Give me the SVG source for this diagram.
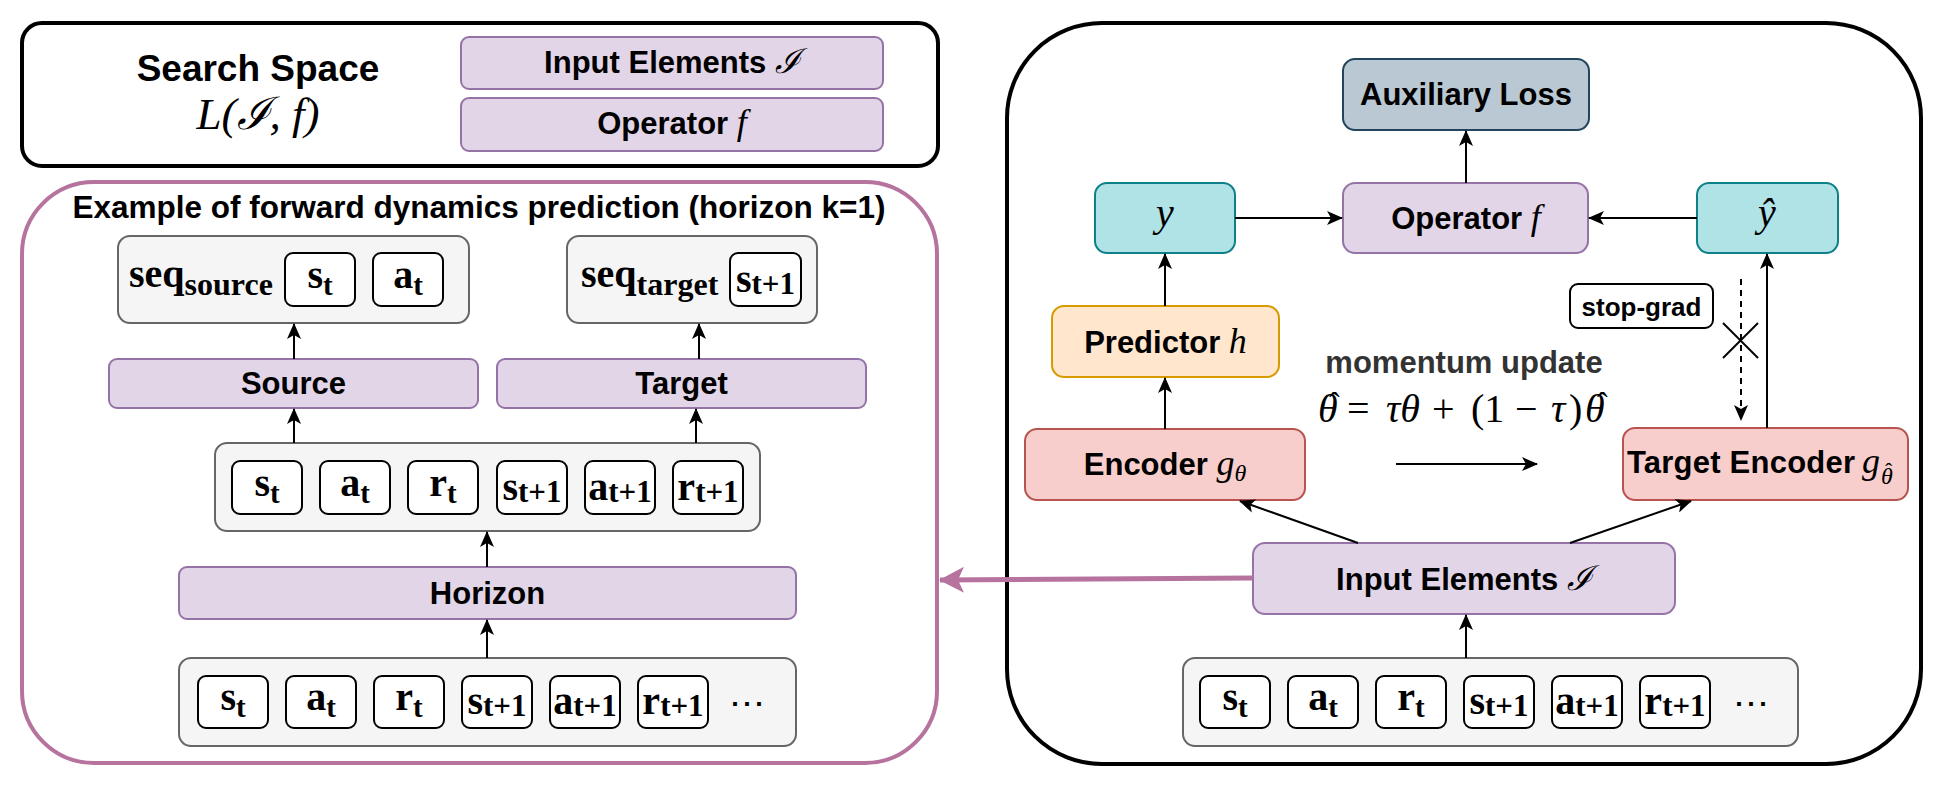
<svg xmlns="http://www.w3.org/2000/svg" width="1954" height="790" viewBox="0 0 1954 790">
<style>
.lbl{font-family:"Liberation Sans",Arial,sans-serif;font-weight:bold;font-size:31px;text-anchor:middle;fill:#000}
.mi{font-family:"Liberation Serif","DejaVu Serif",serif;font-style:italic;font-weight:normal}
.up{font-family:"Liberation Serif","DejaVu Serif",serif;font-style:normal;font-weight:normal}
.tok{font-family:"Liberation Serif","DejaVu Serif",serif;font-weight:bold;font-size:40px;text-anchor:middle;fill:#000}
.s1{font-size:29px}
.s2{font-size:31px}
.purple{fill:#e1d5e7;stroke:#9673a6;stroke-width:2}
.gray{fill:#f5f5f5;stroke:#666666;stroke-width:2}
.tk{fill:#ffffff;stroke:#000000;stroke-width:2}
.teal{fill:#b0e3e6;stroke:#0e8088;stroke-width:2}
.red{fill:#f8cecc;stroke:#b85450;stroke-width:2}
.edge{stroke:#000;stroke-width:2;fill:none}
</style>
<defs>
<marker id="arr" markerUnits="userSpaceOnUse" markerWidth="16" markerHeight="14" viewBox="0 0 16 14" refX="15" refY="7" orient="auto">
<path d="M0,0 L16,7 L0,14 L4,7 Z" fill="#000"/>
</marker>
<marker id="parr" markerUnits="userSpaceOnUse" markerWidth="26" markerHeight="26" viewBox="0 0 26 26" refX="24" refY="13" orient="auto">
<path d="M0,0 L25,13 L0,26 L6,13 Z" fill="#b5739d"/>
</marker>
</defs>
<rect width="1954" height="790" fill="#ffffff"/>

<g id="search-space">
<rect x="22" y="23" width="916" height="143" rx="20" fill="#fff" stroke="#000" stroke-width="4"/>
<text class="lbl" x="258" y="81" style="font-size:37px">Search Space</text>
<text x="258" y="129" class="mi" style="font-size:45px" text-anchor="middle">L(ℐ, f)</text>
</g>
<g id="ss-input">
<rect class="purple" x="461" y="37" width="422" height="52" rx="8"/>
<text class="lbl" x="672" y="73">Input Elements <tspan class="mi" style="font-size:34px">ℐ</tspan></text>
</g>
<g id="ss-operator">
<rect class="purple" x="461" y="98" width="422" height="53" rx="8"/>
<text class="lbl" x="672" y="134">Operator <tspan class="mi" style="font-size:36px">f</tspan></text>
</g>

<g id="example">
<rect x="22" y="182" width="915" height="581" rx="72" fill="#fff" stroke="#b5739d" stroke-width="4"/>
<text class="lbl" x="479" y="218" style="font-size:31.5px">Example of forward dynamics prediction (horizon k=1)</text>
</g>

<g id="seq-source">
<rect class="gray" x="118" y="236" width="351" height="87" rx="12"/>
<text class="tok" x="129" y="287" style="text-anchor:start">seq<tspan dy="8" style="font-size:32px">source</tspan></text>
<rect class="tk" x="285" y="253" width="70" height="53" rx="8"/>
<text class="tok" x="320" y="288">s<tspan class="s1" dy="7">t</tspan></text>
<rect class="tk" x="373" y="253" width="70" height="53" rx="8"/>
<text class="tok" x="408" y="288">a<tspan class="s1" dy="7">t</tspan></text>
</g>
<g id="seq-target">
<rect class="gray" x="567" y="236" width="250" height="87" rx="12"/>
<text class="tok" x="581" y="287" style="text-anchor:start">seq<tspan dy="8" style="font-size:32px">target</tspan></text>
<rect class="tk" x="730" y="253" width="71" height="53" rx="8"/>
<text class="tok" x="765.5" y="292">s<tspan class="s2" dy="2">t+1</tspan></text>
</g>
<g id="source">
<rect class="purple" x="109" y="359" width="369" height="49" rx="8"/>
<text class="lbl" x="293.5" y="394">Source</text>
</g>
<g id="target">
<rect class="purple" x="497" y="359" width="369" height="49" rx="8"/>
<text class="lbl" x="681.5" y="394">Target</text>
</g>
<g id="window-seq">
<rect class="gray" x="215" y="443" width="545" height="88" rx="12"/>
<rect class="tk" x="232" y="461" width="70" height="53" rx="8"/>
<text class="tok" x="267" y="496">s<tspan class="s1" dy="7">t</tspan></text>
<rect class="tk" x="320" y="461" width="70" height="53" rx="8"/>
<text class="tok" x="355" y="496">a<tspan class="s1" dy="7">t</tspan></text>
<rect class="tk" x="408" y="461" width="70" height="53" rx="8"/>
<text class="tok" x="443" y="496">r<tspan class="s1" dy="7">t</tspan></text>
<rect class="tk" x="497" y="461" width="70" height="53" rx="8"/>
<text class="tok" x="532" y="500">s<tspan class="s2" dy="2">t+1</tspan></text>
<rect class="tk" x="585" y="461" width="70" height="53" rx="8"/>
<text class="tok" x="620" y="500">a<tspan class="s2" dy="2">t+1</tspan></text>
<rect class="tk" x="673" y="461" width="70" height="53" rx="8"/>
<text class="tok" x="708" y="500">r<tspan class="s2" dy="2">t+1</tspan></text>
</g>
<g id="horizon">
<rect class="purple" x="179" y="567" width="617" height="52" rx="8"/>
<text class="lbl" x="487.5" y="604">Horizon</text>
</g>
<g id="traj-left">
<rect class="gray" x="179" y="658" width="617" height="88" rx="12"/>
<rect class="tk" x="198" y="676" width="70" height="52" rx="8"/>
<text class="tok" x="233" y="710">s<tspan class="s1" dy="7">t</tspan></text>
<rect class="tk" x="286" y="676" width="70" height="52" rx="8"/>
<text class="tok" x="321" y="710">a<tspan class="s1" dy="7">t</tspan></text>
<rect class="tk" x="374" y="676" width="70" height="52" rx="8"/>
<text class="tok" x="409" y="710">r<tspan class="s1" dy="7">t</tspan></text>
<rect class="tk" x="462" y="676" width="70" height="52" rx="8"/>
<text class="tok" x="497" y="714">s<tspan class="s2" dy="2">t+1</tspan></text>
<rect class="tk" x="550" y="676" width="70" height="52" rx="8"/>
<text class="tok" x="585" y="714">a<tspan class="s2" dy="2">t+1</tspan></text>
<rect class="tk" x="638" y="676" width="70" height="52" rx="8"/>
<text class="tok" x="673" y="714">r<tspan class="s2" dy="2">t+1</tspan></text>
<text x="747" y="716" style="font-family:'DejaVu Serif',serif;font-size:36px;text-anchor:middle">⋯</text>
</g>

<g id="framework">
<rect x="1007" y="23" width="914" height="741" rx="95" fill="#fff" stroke="#000" stroke-width="4"/>
</g>
<g id="aux-loss">
<rect x="1343" y="59" width="246" height="71" rx="12" fill="#bac8d3" stroke="#23445d" stroke-width="2"/>
<text class="lbl" x="1466" y="105">Auxiliary Loss</text>
</g>
<g id="operator">
<rect class="purple" x="1343" y="183" width="245" height="70" rx="12"/>
<text class="lbl" x="1466" y="229">Operator <tspan class="mi" style="font-size:36px">f</tspan></text>
</g>
<g id="y">
<rect class="teal" x="1095" y="183" width="140" height="70" rx="12"/>
<text class="mi" x="1165" y="226" style="font-size:40px" text-anchor="middle">y</text>
</g>
<g id="y-hat">
<rect class="teal" x="1697" y="183" width="141" height="70" rx="12"/>
<text class="mi" x="1767" y="226" style="font-size:40px" text-anchor="middle">ŷ</text>
</g>
<g id="predictor">
<rect x="1052" y="306" width="227" height="71" rx="12" fill="#ffe6cc" stroke="#d79b00" stroke-width="2"/>
<text class="lbl" x="1165.5" y="353">Predictor <tspan class="mi" style="font-size:36px">h</tspan></text>
</g>
<g id="stop-grad">
<rect x="1570" y="284" width="143" height="44" rx="8" fill="#fff" stroke="#000" stroke-width="2"/>
<text class="lbl" x="1641.5" y="316" style="font-size:26px">stop-grad</text>
</g>
<g id="momentum">
<text class="lbl" x="1464" y="373" style="fill:#333333;font-size:31px">momentum update</text>
<text class="up" y="422" style="font-size:40px"><tspan class="mi" x="1318">θ</tspan><tspan x="1329" y="414" style="font-size:32px">ˆ</tspan><tspan x="1347" y="422">=</tspan><tspan class="mi" x="1386">τθ</tspan><tspan x="1432">+</tspan><tspan x="1471">(1</tspan><tspan x="1515">−</tspan><tspan class="mi" x="1551">τ</tspan><tspan x="1569">)</tspan><tspan class="mi" x="1585">θ</tspan><tspan x="1597" y="414" style="font-size:32px">ˆ</tspan></text>
</g>
<g id="encoder">
<rect class="red" x="1025" y="429" width="280" height="71" rx="12"/>
<text class="lbl" x="1165" y="475">Encoder <tspan class="mi" style="font-size:36px">g</tspan><tspan class="mi" style="font-size:24px" dy="6">θ</tspan></text>
</g>
<g id="target-encoder">
<rect class="red" x="1623" y="428" width="285" height="72" rx="12"/>
<text class="lbl" x="1627" y="473" style="text-anchor:start"><tspan textLength="228">Target Encoder</tspan><tspan class="mi" x="1862" style="font-size:36px">g</tspan><tspan class="mi" x="1881" y="484" style="font-size:24px">θ</tspan><tspan class="up" x="1885" y="478" style="font-size:22px">ˆ</tspan></text>
</g>
<g id="input-elements">
<rect class="purple" x="1253" y="543" width="422" height="71" rx="12"/>
<text class="lbl" x="1464" y="590">Input Elements <tspan class="mi" style="font-size:34px">ℐ</tspan></text>
</g>
<g id="traj-right">
<rect class="gray" x="1183" y="658" width="615" height="88" rx="12"/>
<rect class="tk" x="1200" y="676" width="70" height="52" rx="8"/>
<text class="tok" x="1235" y="710">s<tspan class="s1" dy="7">t</tspan></text>
<rect class="tk" x="1288" y="676" width="70" height="52" rx="8"/>
<text class="tok" x="1323" y="710">a<tspan class="s1" dy="7">t</tspan></text>
<rect class="tk" x="1376" y="676" width="70" height="52" rx="8"/>
<text class="tok" x="1411" y="710">r<tspan class="s1" dy="7">t</tspan></text>
<rect class="tk" x="1464" y="676" width="70" height="52" rx="8"/>
<text class="tok" x="1499" y="714">s<tspan class="s2" dy="2">t+1</tspan></text>
<rect class="tk" x="1552" y="676" width="70" height="52" rx="8"/>
<text class="tok" x="1587" y="714">a<tspan class="s2" dy="2">t+1</tspan></text>
<rect class="tk" x="1640" y="676" width="70" height="52" rx="8"/>
<text class="tok" x="1675" y="714">r<tspan class="s2" dy="2">t+1</tspan></text>
<text x="1751" y="716" style="font-family:'DejaVu Serif',serif;font-size:36px;text-anchor:middle">⋯</text>
</g>

<g id="connectors">
<line class="edge" x1="294" y1="359" x2="294" y2="324" marker-end="url(#arr)"/>
<line class="edge" x1="699" y1="359" x2="699" y2="324" marker-end="url(#arr)"/>
<line class="edge" x1="294" y1="443" x2="294" y2="409" marker-end="url(#arr)"/>
<line class="edge" x1="696" y1="443" x2="696" y2="409" marker-end="url(#arr)"/>
<line class="edge" x1="487" y1="567" x2="487" y2="532" marker-end="url(#arr)"/>
<line class="edge" x1="487" y1="658" x2="487" y2="620" marker-end="url(#arr)"/>
<line class="edge" x1="1466" y1="183" x2="1466" y2="131" marker-end="url(#arr)"/>
<line class="edge" x1="1235" y1="218" x2="1342" y2="218" marker-end="url(#arr)"/>
<line class="edge" x1="1697" y1="218" x2="1589" y2="218" marker-end="url(#arr)"/>
<line class="edge" x1="1165" y1="306" x2="1165" y2="254" marker-end="url(#arr)"/>
<line class="edge" x1="1165" y1="429" x2="1165" y2="378" marker-end="url(#arr)"/>
<line class="edge" x1="1358" y1="543" x2="1240" y2="501" marker-end="url(#arr)"/>
<line class="edge" x1="1570" y1="543" x2="1691" y2="501" marker-end="url(#arr)"/>
<line class="edge" x1="1466" y1="658" x2="1466" y2="615" marker-end="url(#arr)"/>
<line class="edge" x1="1767" y1="428" x2="1767" y2="254" marker-end="url(#arr)"/>
<line class="edge" x1="1741" y1="279" x2="1741" y2="420" stroke-dasharray="6 5" marker-end="url(#arr)"/>
<line class="edge" x1="1723" y1="323" x2="1758" y2="358"/>
<line class="edge" x1="1723" y1="358" x2="1758" y2="323"/>
<line class="edge" x1="1396" y1="464" x2="1537" y2="464" marker-end="url(#arr)"/>
<line x1="1253" y1="578" x2="940" y2="580" stroke="#b5739d" stroke-width="5" marker-end="url(#parr)"/>
</g>
</svg>
